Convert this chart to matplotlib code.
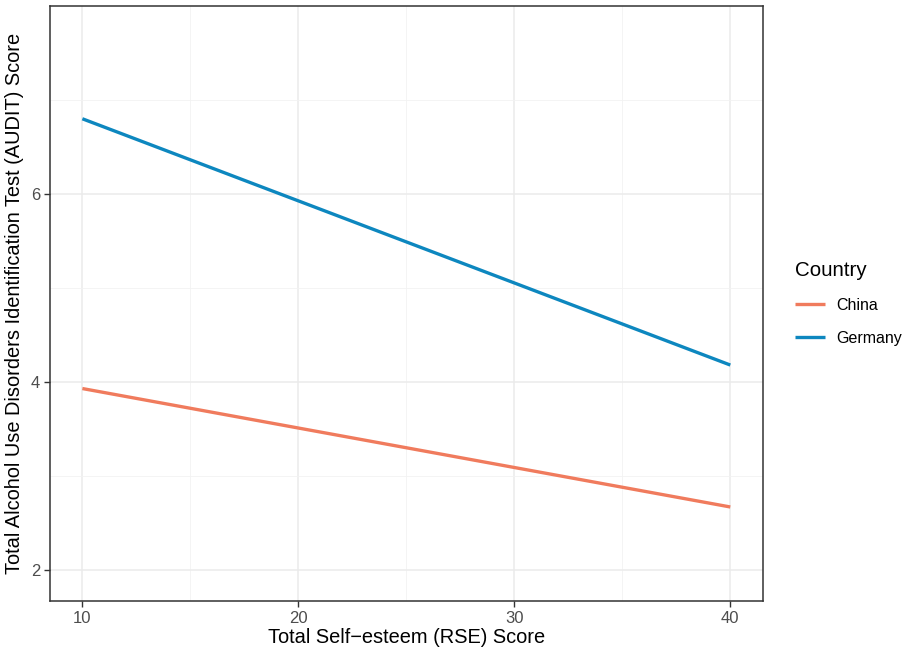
import matplotlib.pyplot as plt
import numpy as np

plt.rcParams['font.family'] = ['Liberation Sans', 'DejaVu Sans']

# Data (fitted line end points)
rse = [10, 40]
countries = ['China', 'Germany']
audit_china = [3.93, 2.67]
audit_germany = [6.80, 4.18]
colors = {'China': '#F07B5D', 'Germany': '#0D87BF'}

fig = plt.figure(figsize=(9.07, 6.49), dpi=100)
ax = fig.add_axes([0.0551, 0.074, 0.7858, 0.9168])

for name, vals in zip(countries, [audit_china, audit_germany]):
    ax.plot(rse, vals, color=colors[name], linewidth=2.4, label=name,
            solid_capstyle='butt', zorder=3)

ax.set_xlim(8.5, 41.5)
ax.set_ylim(1.67, 8.0)
ax.set_xticks([10, 20, 30, 40])
ax.set_yticks([2, 4, 6])
ax.set_xticks([15, 25, 35], minor=True)
ax.set_yticks([3, 5, 7], minor=True)

# theme_bw look
ax.grid(True, which='major', color='#EBEBEB', linewidth=1.1, zorder=0)
ax.grid(True, which='minor', color='#F2F2F2', linewidth=0.6, zorder=0)
ax.set_axisbelow(True)
for s in ax.spines.values():
    s.set_color('#333333')
    s.set_linewidth(1.1)
ax.tick_params(which='major', direction='out', length=4, width=1.0,
               color='#333333', labelcolor='#4D4D4D', labelsize=12, pad=3)
ax.tick_params(which='minor', length=0)

ax.set_xlabel('Total Self\u2212esteem (RSE) Score', fontsize=14.4, labelpad=2)
ax.set_ylabel('Total Alcohol Use Disorders Identification Test (AUDIT) Score',
              fontsize=14.4, labelpad=5)

leg = ax.legend(title='Country', loc='center left', bbox_to_anchor=(1.0, 0.5),
                frameon=False, fontsize=11.5, title_fontsize=14.8,
                handlelength=1.9, handletextpad=0.7, labelspacing=1.1,
                borderaxespad=1.6)
leg._legend_box.align = 'left'

plt.savefig('out.png', dpi=100)
